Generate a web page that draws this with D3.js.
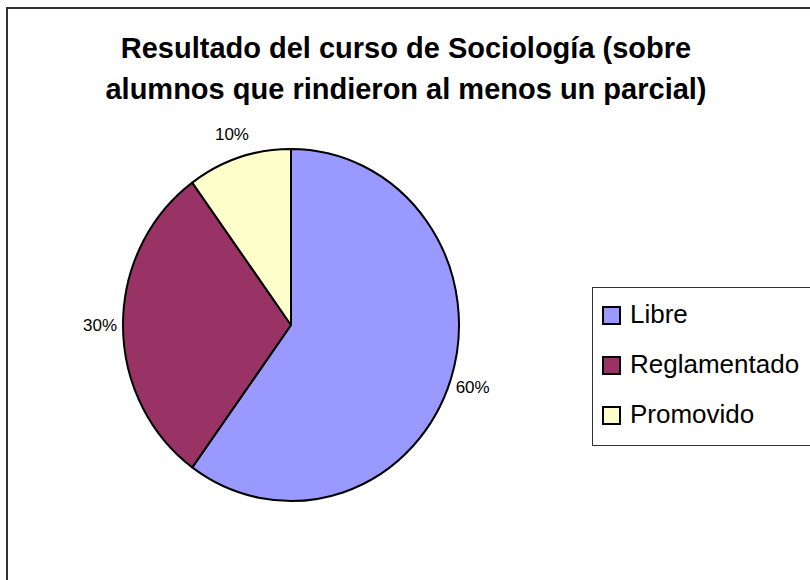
<!DOCTYPE html>
<html>
<head>
<meta charset="utf-8">
<script src="https://cdn.jsdelivr.net/npm/d3@7"></script>
<style>
  body { margin: 0; background: #fff; }
  text { font-family: "Liberation Sans", Arial, sans-serif; }
</style>
</head>
<body>
<div id="chart"></div>
<script>
// chart data
var categories = ["Libre", "Reglamentado", "Promovido"];
var values = [60, 30, 10];
var colors = ["#9999FF", "#993366", "#FFFFCC"];
var titleLines = ["Resultado del curso de Sociología (sobre", "alumnos que rindieron al menos un parcial)"];

var width = 810;
var height = 580;

var svg = d3.select("#chart")
  .append("svg")
  .attr("width", width)
  .attr("height", height);

// outer frame (runs off the right and bottom edges)
svg.append("rect")
  .attr("x", 7)
  .attr("y", 8)
  .attr("width", 840)
  .attr("height", 600)
  .attr("fill", "#fff")
  .attr("stroke", "#333")
  .attr("stroke-width", 2);

// title
svg.selectAll(".title")
  .data(titleLines)
  .enter()
  .append("text")
  .attr("class", "title")
  .attr("x", 406)
  .attr("y", (d, i) => 58 + i * 41)
  .attr("text-anchor", "middle")
  .style("font-size", "29px")
  .style("font-weight", "bold")
  .text(d => d);

// pie
var cx = 291, cy = 325, rx = 168, ry = 176;

var pie = d3.pie().sort(null).value(d => d);
var arcs = pie(values);
var arc = d3.arc().innerRadius(0).outerRadius(rx);

var pieG = svg.append("g")
  .attr("transform", `translate(${cx}, ${cy}) scale(1, ${ry / rx})`);

pieG.selectAll("path")
  .data(arcs)
  .enter()
  .append("path")
  .attr("d", arc)
  .attr("fill", (d, i) => colors[i])
  .attr("stroke", "#000")
  .attr("stroke-width", 2)
  .attr("stroke-linejoin", "round");

// percent labels just outside the rim
var total = d3.sum(values);

function labelPos(d) {
  var a = (d.startAngle + d.endAngle) / 2;
  return [cx + Math.sin(a) * (rx + 23), cy - Math.cos(a) * (ry + 25)];
}

svg.selectAll(".pct")
  .data(arcs)
  .enter()
  .append("text")
  .attr("class", "pct")
  .attr("x", d => labelPos(d)[0])
  .attr("y", d => labelPos(d)[1] + 6)
  .attr("text-anchor", "middle")
  .style("font-size", "17px")
  .text(d => Math.round(d.data / total * 100) + "%");

// legend
var legend = svg.append("g")
  .attr("transform", "translate(592, 287)");

legend.append("rect")
  .attr("x", 0.5)
  .attr("y", 0.5)
  .attr("width", 260)
  .attr("height", 158)
  .attr("fill", "#fff")
  .attr("stroke", "#333")
  .attr("stroke-width", 1);

var items = legend.selectAll(".item")
  .data(categories)
  .enter()
  .append("g")
  .attr("class", "item")
  .attr("transform", (d, i) => `translate(0, ${28 + i * 50})`);

items.append("rect")
  .attr("x", 11)
  .attr("y", -8)
  .attr("width", 17)
  .attr("height", 17)
  .attr("fill", (d, i) => colors[i])
  .attr("stroke", "#000")
  .attr("stroke-width", 2);

items.append("text")
  .attr("x", 38)
  .attr("y", 8)
  .style("font-size", "26px")
  .text(d => d);
</script>
</body>
</html>
